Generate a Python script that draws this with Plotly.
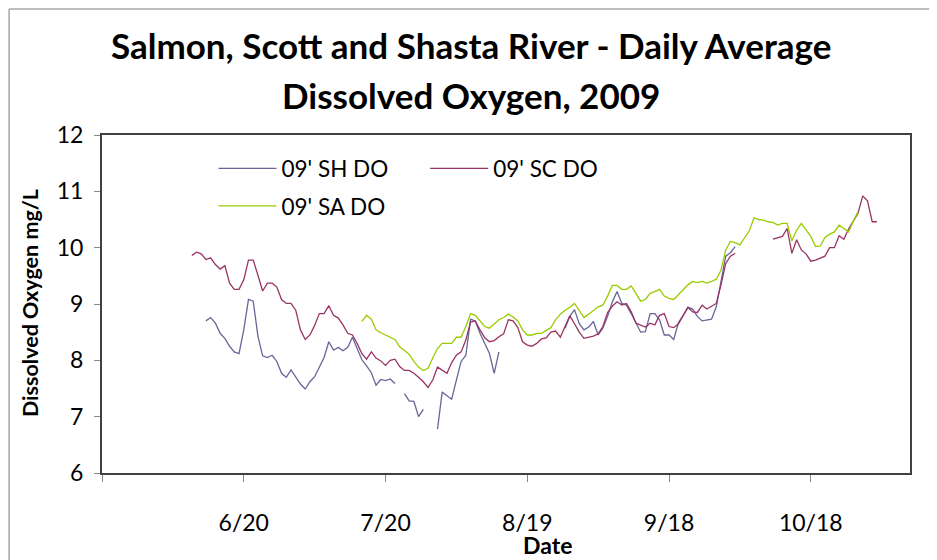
import plotly.graph_objects as go
import pandas as pd

# Daily average dissolved oxygen (mg/L), one value per day; None = no data
base_date = pd.Timestamp("2009-05-21")

sh_start = 22  # days after base_date (6/12)
sh_do = [
    8.70, 8.76, 8.66, 8.48, 8.39, 8.25, 8.15, 8.12, 8.54, 9.08,
    9.05, 8.43, 8.08, 8.05, 8.09, 7.98, 7.77, 7.70, 7.83, 7.71,
    7.58, 7.49, 7.62, 7.71, 7.89, 8.05, 8.33, 8.18, 8.23, 8.17,
    8.23, 8.41, 8.21, 8.01, 7.90, 7.78, 7.56, 7.66, 7.64, 7.67,
    7.59,
    None,
    7.41, 7.28, 7.27, 7.00, 7.13,
    None, None,
    6.78, 7.44, 7.37, 7.31, 7.65, 7.98, 8.09, 8.73, 8.70, 8.48,
    8.30, 8.12, 7.77, 8.15,
    None, None, None, None, None, None, None, None, None, None,
    None, None, None,
    8.57, 8.78, 8.90, 8.65, 8.54, 8.59, 8.69, 8.45, 8.57, 8.78,
    9.04, 9.22, 9.01, 8.98, 8.83, 8.66, 8.50, 8.51, 8.83, 8.83,
    8.72, 8.45, 8.45, 8.37, 8.67, 8.80, 8.94, 8.91, 8.78, 8.70,
    8.72, 8.73, 8.95, 9.41, 9.85, 9.91, 10.02,
]

sc_start = 19  # 6/9
sc_do = [
    9.86, 9.92, 9.89, 9.79, 9.82, 9.70, 9.62, 9.68, 9.37, 9.26,
    9.26, 9.43, 9.78, 9.78, 9.51, 9.23, 9.37, 9.37, 9.30, 9.08,
    9.01, 9.01, 8.89, 8.54, 8.37, 8.45,
    8.62, 8.83, 8.83, 8.97, 8.80, 8.75, 8.63, 8.48, 8.45, 8.30,
    8.12, 8.02, 8.15, 8.04, 7.99, 7.91, 8.00, 8.02, 7.89, 7.82,
    7.82, 7.77, 7.70, 7.62, 7.52, 7.65, 7.88, 7.83, 7.77, 7.96,
    8.09, 8.15, 8.36, 8.68, 8.70,
    8.54, 8.40, 8.33, 8.35, 8.42, 8.47, 8.72, 8.70, 8.58, 8.33,
    8.27, 8.25, 8.30, 8.38, 8.40, 8.50, 8.52, 8.41, 8.60, 8.79,
    8.65, 8.50, 8.39, 8.41, 8.43, 8.47, 8.60, 8.85, 8.96, 9.04,
    8.98, 9.01, 8.86, 8.66, 8.62, 8.59, 8.66, 8.63, 8.80, 8.83,
    8.60, 8.58, 8.65, 8.80, 8.94, 8.86, 8.85, 8.98, 8.91, 8.96,
    9.01, 9.34, 9.72, 9.85, 9.90,
    None, None, None, None, None, None, None,
    10.15, 10.17, 10.20, 10.34, 9.90, 10.14, 9.96, 9.89, 9.76, 9.78,
    9.81, 9.85, 10.00, 10.00, 10.21, 10.15, 10.33, 10.46, 10.61, 10.92,
    10.83, 10.46, 10.46,
]

sa_start = 55  # 7/15
sa_do = [
    8.69, 8.80, 8.73, 8.54, 8.49, 8.45, 8.41, 8.37, 8.24, 8.17,
    8.11, 7.98, 7.88, 7.82, 7.86, 8.04, 8.21, 8.30, 8.30, 8.30,
    8.41, 8.41, 8.60, 8.83,
    8.80, 8.70, 8.60, 8.57, 8.65, 8.72, 8.76, 8.82, 8.77, 8.70,
    8.54, 8.45, 8.45, 8.48, 8.48, 8.53, 8.58, 8.72, 8.82, 8.89,
    8.94, 9.01, 8.88, 8.76, 8.82, 8.88, 8.95, 8.98, 9.14, 9.33,
    9.33,
    9.26, 9.26, 9.32, 9.19, 9.05, 9.08, 9.19, 9.22, 9.26, 9.14,
    9.10, 9.08, 9.17, 9.26, 9.34, 9.40, 9.38, 9.40, 9.37, 9.40,
    9.44, 9.60, 9.96, 10.11, 10.09, 10.05, 10.17, 10.30, 10.53, 10.50,
    10.49, 10.46,
    10.45, 10.40, 10.43, 10.43, 10.12, 10.31, 10.43, 10.31, 10.20, 10.02,
    10.03, 10.18, 10.24, 10.28, 10.40, 10.34, 10.28, 10.47, 10.64,
]

tick_dates = ["2009-05-21", "2009-06-20", "2009-07-20", "2009-08-19",
              "2009-09-18", "2009-10-18"]
tick_labels = ["", "6/20", "7/20", "8/19", "9/18", "10/18"]
y_ticks = [6, 7, 8, 9, 10, 11, 12]

FONT = "Lato"


def day_axis(start, values):
    return pd.date_range(base_date + pd.Timedelta(days=start), periods=len(values), freq="D")


fig = go.Figure()

series = [
    ("09' SH DO", sh_start, sh_do, "#666699", "legend"),
    ("09' SC DO", sc_start, sc_do, "#993366", "legend2"),
    ("09' SA DO", sa_start, sa_do, "#99CC00", "legend3"),
]
for name, start, values, color, leg in series:
    fig.add_trace(go.Scatter(
        x=day_axis(start, values),
        y=values,
        name=name,
        mode="lines",
        line=dict(color=color, width=1.3),
        connectgaps=False,
        legend=leg,
        showlegend=True,
    ))

leg_style = dict(
    font=dict(family=FONT, size=22.5, color="black"),
    bgcolor="rgba(0,0,0,0)",
    xanchor="left",
    yanchor="middle",
    itemwidth=58,
)

# page body adds an 8px offset, so the figure is laid out 8px up/left
fig.update_layout(
    width=929,
    height=552,
    margin=dict(l=94, r=27, t=127, b=87),
    plot_bgcolor="white",
    paper_bgcolor="white",
    font=dict(family=FONT, color="black"),
    showlegend=True,
    legend=dict(x=0.138, y=0.900, **leg_style),
    legend2=dict(x=0.400, y=0.900, **leg_style),
    legend3=dict(x=0.138, y=0.789, **leg_style),
    annotations=[
        dict(text="<b>Salmon, Scott and Shasta River - Daily Average</b>",
             xref="paper", yref="paper", x=0.457, y=1.266, showarrow=False,
             xanchor="center", yanchor="middle",
             font=dict(family=FONT, size=35, color="black")),
        dict(text="<b>Dissolved Oxygen, 2009</b>",
             xref="paper", yref="paper", x=0.457, y=1.117, showarrow=False,
             xanchor="center", yanchor="middle",
             font=dict(family=FONT, size=35, color="black")),
        dict(text="<b>Dissolved Oxygen mg/L</b>",
             xref="paper", yref="paper", x=-0.089, y=0.503, showarrow=False,
             textangle=-90, xanchor="center", yanchor="middle",
             font=dict(family=FONT, size=21.5, color="black")),
        dict(text="<b>Date</b>",
             xref="paper", yref="paper", x=0.551, y=-0.212, showarrow=False,
             xanchor="center", yanchor="middle",
             font=dict(family=FONT, size=23, color="black")),
    ],
    shapes=[
        dict(type="line", xref="paper", yref="paper", x0=-0.115, x1=1.2,
             y0=1.3728, y1=1.3728, line=dict(color="#a6a6a6", width=1.5)),
        dict(type="line", xref="paper", yref="paper", x0=-0.115, x1=-0.115,
             y0=-0.4, y1=1.3728, line=dict(color="#a6a6a6", width=1.5)),
    ],
)

fig.update_xaxes(
    type="date",
    range=["2009-05-21", "2009-11-08"],
    tickvals=tick_dates,
    ticktext=tick_labels,
    ticks="outside",
    ticklen=7,
    tickcolor="#888888",
    tickwidth=1,
    ticklabelstandoff=21,
    tickfont=dict(family=FONT, size=23, color="black"),
    showgrid=False,
    zeroline=False,
    showline=True,
    linecolor="#404040",
    linewidth=2,
    mirror=True,
)
fig.update_yaxes(
    range=[6, 12],
    tickvals=y_ticks,
    ticks="outside",
    ticklen=6,
    tickcolor="#888888",
    tickwidth=1,
    ticklabelstandoff=6,
    tickfont=dict(family=FONT, size=23, color="black"),
    showgrid=False,
    zeroline=False,
    showline=True,
    linecolor="#404040",
    linewidth=2,
    mirror=True,
)

fig.write_html("out.html")
